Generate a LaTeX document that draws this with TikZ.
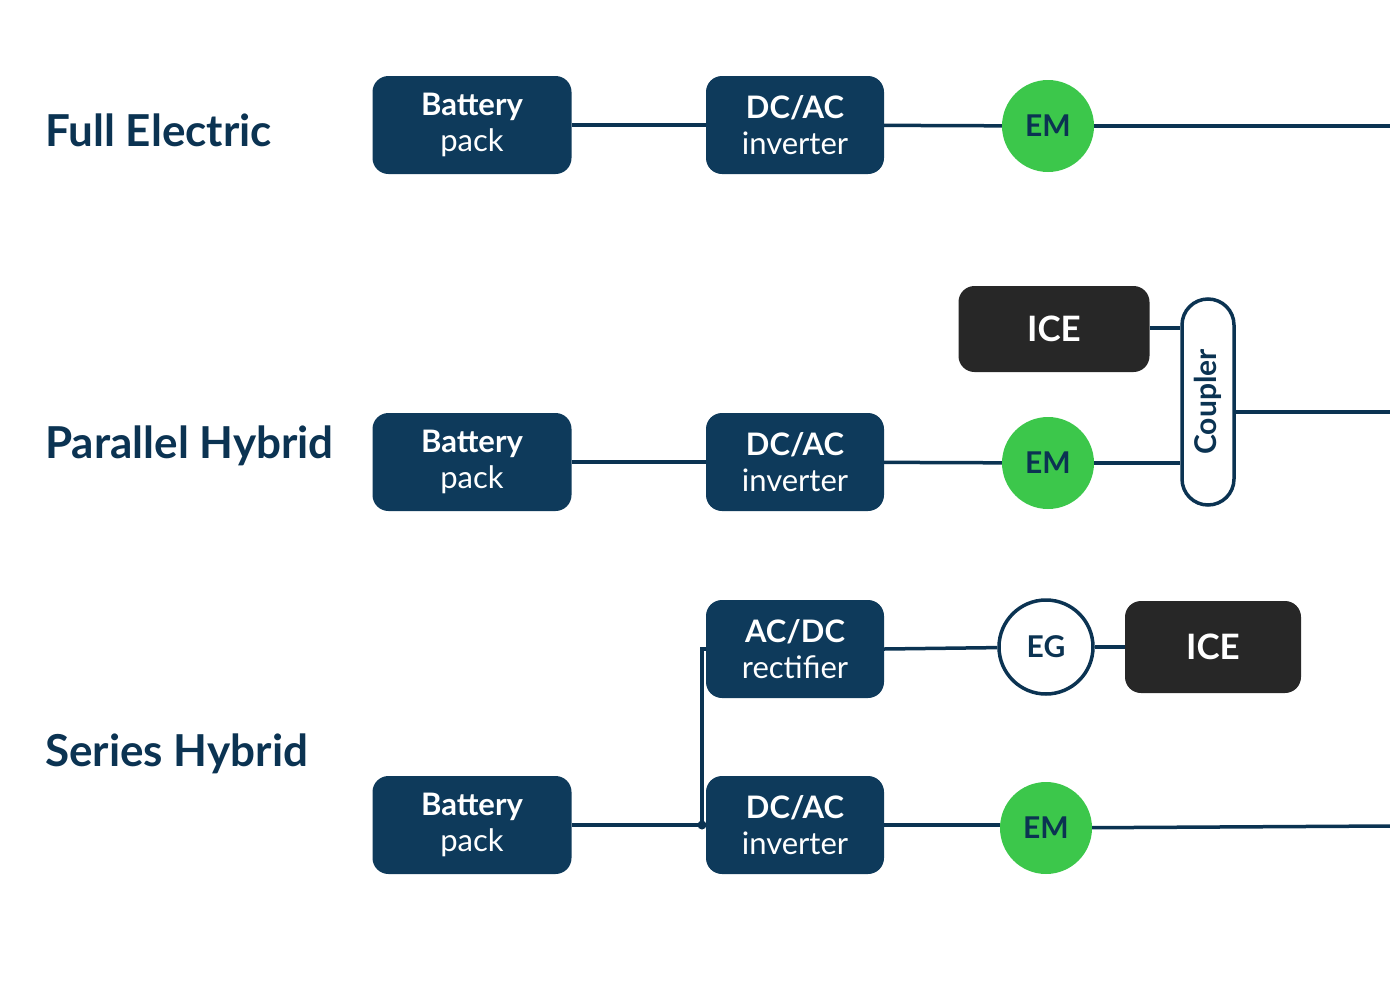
\documentclass[tikz,border=0pt]{standalone}
\usepackage{fontspec}
\setmainfont{Lato}
\usetikzlibrary{positioning}
\definecolor{navy}{HTML}{0B3352}
\definecolor{boxblue}{HTML}{0E3A5B}
\definecolor{emgreen}{HTML}{3CC74B}
\definecolor{icegray}{HTML}{272727}

\begin{document}
\begin{tikzpicture}[x=1pt, y=-1pt,
  unit/.style={rounded corners=16pt, align=center, fill=boxblue, text=white,
               minimum width=199pt, minimum height=98pt, inner sep=0pt,
               font=\fontsize{31}{33}\selectfont},
  conv/.style={unit, minimum width=178pt},
  engine/.style={rounded corners=16pt, fill=icegray, text=white, inner sep=0pt,
                 font=\fontsize{35}{37}\selectfont\bfseries},
  motor/.style={circle, fill=emgreen, text=navy, minimum size=92pt, inner sep=0pt,
                font=\fontsize{30}{32}\selectfont\bfseries},
  gen/.style={circle, fill=white, draw=navy, line width=3.5pt, text=navy,
              minimum size=94pt, inner sep=0pt, font=\fontsize{30}{32}\selectfont\bfseries},
  rowlabel/.style={anchor=west, text=navy, inner sep=0pt,
                   font=\fontsize{44}{48}\selectfont\bfseries},
  link/.style={draw=navy, line width=3.5pt}
]
\useasboundingbox (0,0) rectangle (1390,999);

% Full Electric
\node[rowlabel] (fe) at (45,130) {Full Electric};
\node[unit] (bat1) at (472,125) {\textbf{Battery}\\[3pt] pack};
\node[conv] (inv1) at (795,125) {\textbf{DC/AC}\\[3pt] inverter};
\node[motor] (em1) at (1048,126) {EM};
\coordinate (out1) at (1390,126);
\draw[link] (bat1) -- (inv1);
\draw[link] (inv1) -- (em1);
\draw[link] (em1) -- (out1);

% Parallel Hybrid
\node[rowlabel] (ph) at (45,446) {Parallel Hybrid};
\node[unit] (bat2) at (472,462) {\textbf{Battery}\\[3pt] pack};
\node[conv] (inv2) at (795,462) {\textbf{DC/AC}\\[3pt] inverter};
\node[motor] (em2) at (1048,463) {EM};
\node[engine, minimum width=191pt, minimum height=86pt] (ice2) at (1054,329) {ICE};
\node[draw=navy, line width=3.5pt, fill=white, rounded corners=26pt,
      minimum width=52pt, minimum height=206pt, inner sep=0pt,
      text=navy, font=\fontsize{30}{32}\selectfont\bfseries] (coup) at (1208,402)
      {\rotatebox{90}{Coupler}};
\coordinate (out2) at (1390,412);
\draw[link] (bat2) -- (inv2);
\draw[link] (inv2) -- (em2);
\draw[link] (em2.east) -- (em2.east -| coup.west);
\draw[link] (ice2.east |- 0,328) -- (coup.west |- 0,328);
\draw[link] (coup.east |- out2) -- (out2);

% Series Hybrid
\node[rowlabel] (sh) at (45,754) {Series Hybrid};
\node[unit] (bat3) at (472,825) {\textbf{Battery}\\[3pt] pack};
\node[conv] (rect) at (795,649) {\textbf{AC/DC}\\[3pt] rectifier};
\node[conv] (inv3) at (795,825) {\textbf{DC/AC}\\[3pt] inverter};
\node[gen] (eg) at (1046,647) {EG};
\node[engine, minimum width=176pt, minimum height=92pt] (ice3) at (1213,647) {ICE};
\node[motor] (em3) at (1046,828) {EM};
\coordinate (jn) at (702,825);
\coordinate (out3) at (1390,826);
\draw[link] (bat3) -- (jn) -- (inv3);
\draw[link] (jn) |- (rect.west);
\fill[navy] (jn) circle (4.5pt);
\draw[link] (rect.east) -- (eg);
\draw[link] (eg) -- (ice3);
\draw[link] (inv3.east) -- (inv3.east -| em3.west);
\draw[link] (em3) -- (out3);
\end{tikzpicture}
\end{document}
